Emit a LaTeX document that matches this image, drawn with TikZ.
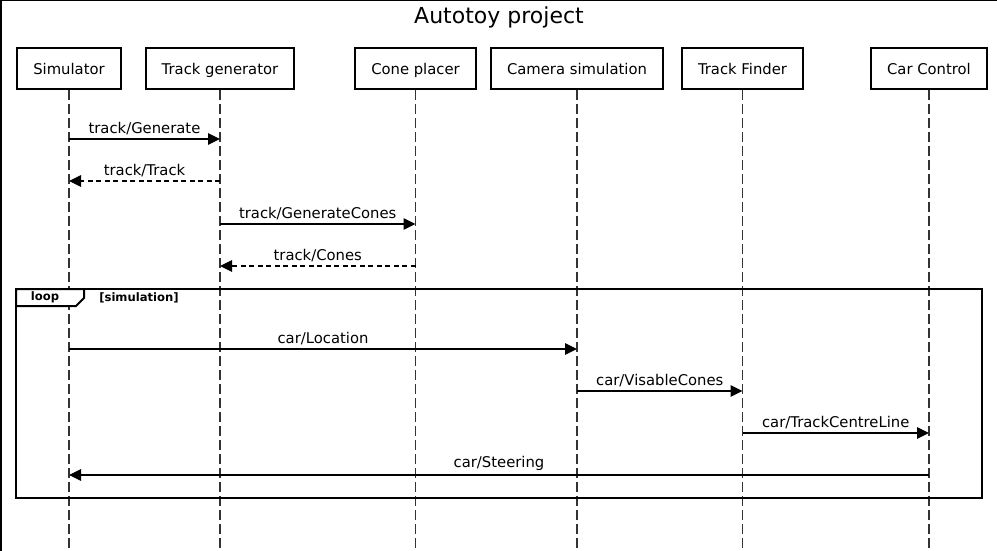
\documentclass[tikz,border=0pt]{standalone}
\usepackage{fontspec}
\setmainfont{DejaVu Sans}
\usetikzlibrary{arrows.meta}

\tikzset{
  actor/.style={draw, line width=2pt, fill=white, minimum height=41pt, inner sep=0pt,
    text height=12pt, text depth=0.2pt, font=\fontsize{14.8}{17}\selectfont},
  life/.style={draw=black!80, line width=1.2pt, dash pattern=on 10pt off 4pt},
  msg/.style={draw, line width=1.2pt, -{Triangle[length=12pt,width=11.5pt]}},
  reply/.style={msg, dash pattern=on 5pt off 3.5pt},
  lbl/.style={above, inner sep=4pt, font=\fontsize{14.8}{17}\selectfont},
}

\begin{document}
\begin{tikzpicture}[x=1pt, y=-1pt]
   \useasboundingbox (0,0) rectangle (997,551);
   \draw[line width=1.5pt] (0.75,551) -- (0.75,0.75) -- (997,0.75);
   \node[font=\fontsize{22}{26}\selectfont] (title) at (499,17) {Autotoy project};

   % participants
   \node[actor, minimum width=104pt] (sim)  at (69,68.5)    {Simulator};
   \node[actor, minimum width=148pt] (gen)  at (220,68.5)   {Track generator};
   \node[actor, minimum width=121pt] (cone) at (415.5,68.5) {Cone placer};
   \node[actor, minimum width=172pt] (cam)  at (577,68.5)   {Camera simulation};
   \node[actor, minimum width=121pt] (find) at (742.5,68.5) {Track Finder};
   \node[actor, minimum width=116pt] (ctrl) at (929,68.5)   {Car Control};

   \coordinate (bot) at (0,551);
   \foreach \p in {sim,gen,cone,cam,find,ctrl}
     \draw[life] (\p.south) -- (\p |- bot);

   % message rows
   \foreach \r/\y in {1/139,2/181,3/224,4/266,5/349,6/391,7/433,8/475}
     \coordinate (r\r) at (0,\y);

   \draw[msg]   (sim |- r1)  -- node[lbl] {track/Generate} (gen |- r1);
   \draw[reply] (gen |- r2)  -- node[lbl] {track/Track} (sim |- r2);
   \draw[msg]   (gen |- r3)  -- node[lbl] {track/GenerateCones} (cone |- r3);
   \draw[reply] (cone |- r4) -- node[lbl] {track/Cones} (gen |- r4);

   % loop frame
   \draw[line width=2pt] (16,289) rectangle (982,498);
   \draw[line width=2pt, fill=white] (16,289) -- (84,289) -- (84,298) -- (76,306) -- (16,306) -- cycle;
   \node[font=\fontsize{11.6}{14}\selectfont\bfseries] (looptag) at (45,297.5) {loop};
   \node[font=\fontsize{11.6}{14}\selectfont\bfseries] (guard) at (139,297.5) {[simulation]};

   \draw[msg] (sim |- r5)  -- node[lbl] {car/Location} (cam |- r5);
   \draw[msg] (cam |- r6)  -- node[lbl] {car/VisableCones} (find |- r6);
   \draw[msg] (find |- r7) -- node[lbl] {car/TrackCentreLine} (ctrl |- r7);
   \draw[msg] (ctrl |- r8) -- node[lbl] {car/Steering} (sim |- r8);
\end{tikzpicture}
\end{document}
